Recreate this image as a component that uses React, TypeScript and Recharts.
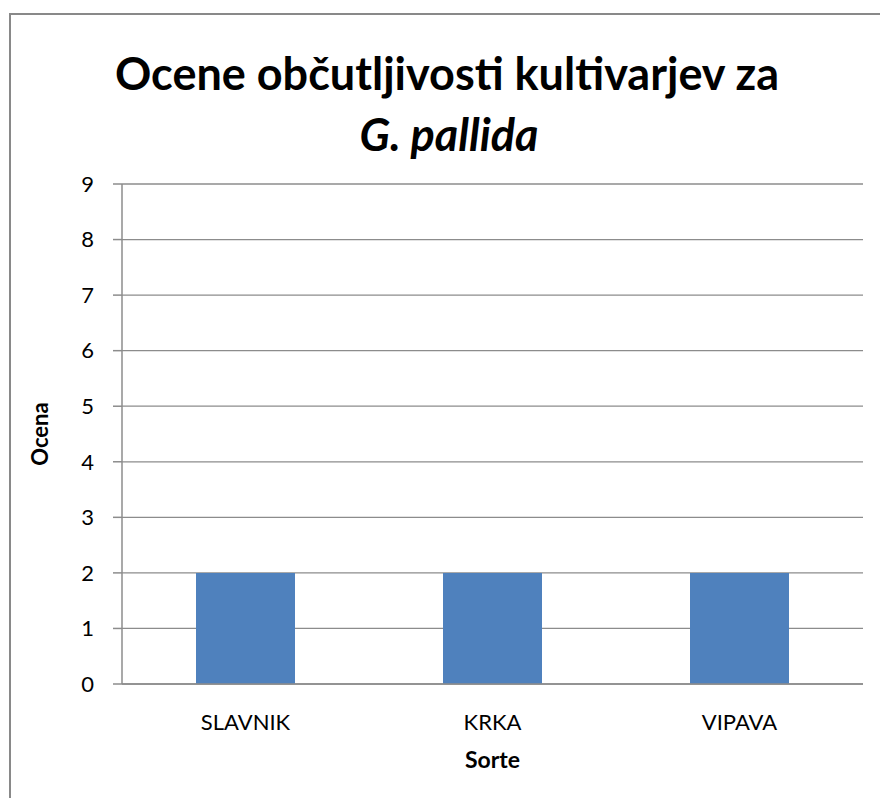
import { Bar, BarChart, CartesianGrid, XAxis, YAxis } from "recharts"

const sorte = ["SLAVNIK", "KRKA", "VIPAVA"]
const ocena = [2, 2, 2]
const yTicks = [0, 1, 2, 3, 4, 5, 6, 7, 8, 9]

const data = sorte.map((name, i) => ({ name, ocena: ocena[i] }))

const font = "Lato, 'Open Sans', sans-serif"

export default function App() {
  return (
    <div style={{ position: "absolute", left: 0, top: 0, width: 880, height: 798, overflow: "hidden", background: "#fff", fontFamily: font }}>
      <div
        style={{
          position: "absolute",
          left: 9,
          top: 13,
          width: 900,
          height: 820,
          border: "2px solid #898989",
        }}
      />
      <div
        style={{
          position: "absolute",
          left: 0,
          width: 880,
          top: 43,
          textAlign: "center",
          fontSize: 45,
          fontWeight: 700,
          lineHeight: "61px",
          color: "#000",
        }}
      >
        <div style={{ marginLeft: 14 }}>Ocene občutljivosti kultivarjev za</div>
        <div style={{ marginLeft: 18, fontStyle: "italic" }}>G. pallida</div>
      </div>
      <div style={{ position: "absolute", left: 0, top: 0 }}>
        <BarChart
          width={880}
          height={798}
          data={data}
          margin={{ top: 184, right: 17, left: 62, bottom: 54 }}
          barCategoryGap="30%"
        >
          <CartesianGrid vertical={false} stroke="#8c8c8c" strokeWidth={1.3} />
          <XAxis
            dataKey="name"
            height={60}
            tickLine={false}
            tickSize={0}
            tickMargin={30}
            stroke="#8c8c8c"
            strokeWidth={1.5}
            fontSize={22}
            fontFamily={font}
            tick={{ fill: "#000", fontSize: 22, style: { fontSize: 22 } }}
            label={{ value: "Sorte", position: "insideBottom", offset: -24, fill: "#000", fontWeight: 700, style: { fontSize: 23, fontFamily: font, fontWeight: 700 } }}
          />
          <YAxis
            width={60}
            domain={[0, 9]}
            ticks={yTicks}
            interval={0}
            tickSize={9}
            tickMargin={19}
            stroke="#8c8c8c"
            strokeWidth={1.5}
            fontSize={22}
            fontFamily={font}
            tick={{ fill: "#000", fontSize: 22, style: { fontSize: 22 } }}
            label={{ value: "Ocena", angle: -90, position: "insideLeft", offset: -22, fill: "#000", style: { textAnchor: "middle", fontSize: 22, fontFamily: font, fontWeight: 700 } }}
          />
          <Bar dataKey="ocena" fill="#4F81BD" barSize={99} isAnimationActive={false} />
        </BarChart>
      </div>
    </div>
  )
}
